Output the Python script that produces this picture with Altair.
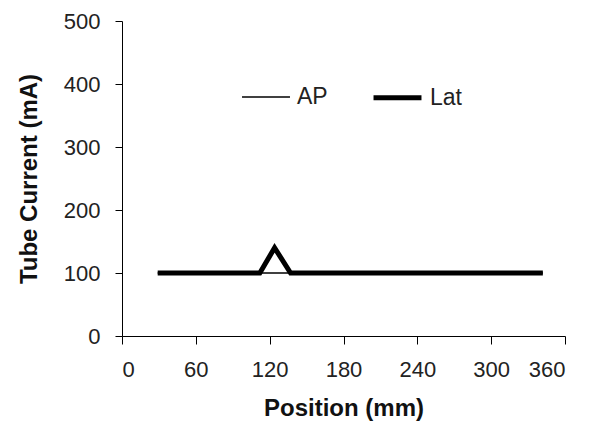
import altair as alt
import pandas as pd

# Data
lat_x = [29, 112, 124, 137, 342]
lat_y = [100, 100, 140, 100, 100]
ap_x = [29, 112, 124, 137, 342]
ap_y = [100, 100, 100, 100, 100]

rows = []
for i, (x, y) in enumerate(zip(lat_x, lat_y)):
    rows.append({"series": "Lat", "pos": x, "mA": y, "ord": i})
for i, (x, y) in enumerate(zip(ap_x, ap_y)):
    rows.append({"series": "AP", "pos": x, "mA": y, "ord": i})
df = pd.DataFrame(rows)

FONT = "Liberation Sans"

chart = alt.Chart(df).mark_line(color="black", strokeCap="butt").encode(
    x=alt.X("pos:Q", title="Position (mm)",
            scale=alt.Scale(domain=[0, 360], nice=False),
            axis=alt.Axis(values=[0, 60, 120, 180, 240, 300, 360], grid=False,
                          tickSize=8, labelPadding=15, titlePadding=16,
                          labelFontSize=22, titleFontSize=24)),
    y=alt.Y("mA:Q", title="Tube Current (mA)",
            scale=alt.Scale(domain=[0, 500], nice=False),
            axis=alt.Axis(values=[0, 100, 200, 300, 400, 500], grid=False,
                          tickSize=7, labelPadding=15, titlePadding=22,
                          labelFontSize=22, titleFontSize=24)),
    strokeWidth=alt.StrokeWidth("series:N",
                                scale=alt.Scale(domain=["AP", "Lat"], range=[1.5, 5]),
                                legend=alt.Legend(title=None, orient="none",
                                                  direction="horizontal",
                                                  legendX=119, legendY=50,
                                                  symbolType="stroke",
                                                  symbolStrokeColor="black",
                                                  symbolSize=2300,
                                                  labelFontSize=23,
                                                  labelOffset=6,
                                                  columnPadding=35)),
    detail="series:N",
    order="ord:Q",
).properties(
    width=443, height=315,
    autosize=alt.AutoSizeParams(type="none"),
    padding={"left": 114, "top": 13, "right": 25, "bottom": 86},
).configure_view(stroke=None).configure_axis(
    domainColor="black", tickColor="black", labelColor="#222222",
    titleColor="#111111", labelFont=FONT, titleFont=FONT,
    titleFontWeight="bold", labelFontWeight="normal",
).configure_legend(labelFont=FONT, labelColor="#222222")

chart.save("out.html", embed_options={"renderer": "svg", "actions": False})
